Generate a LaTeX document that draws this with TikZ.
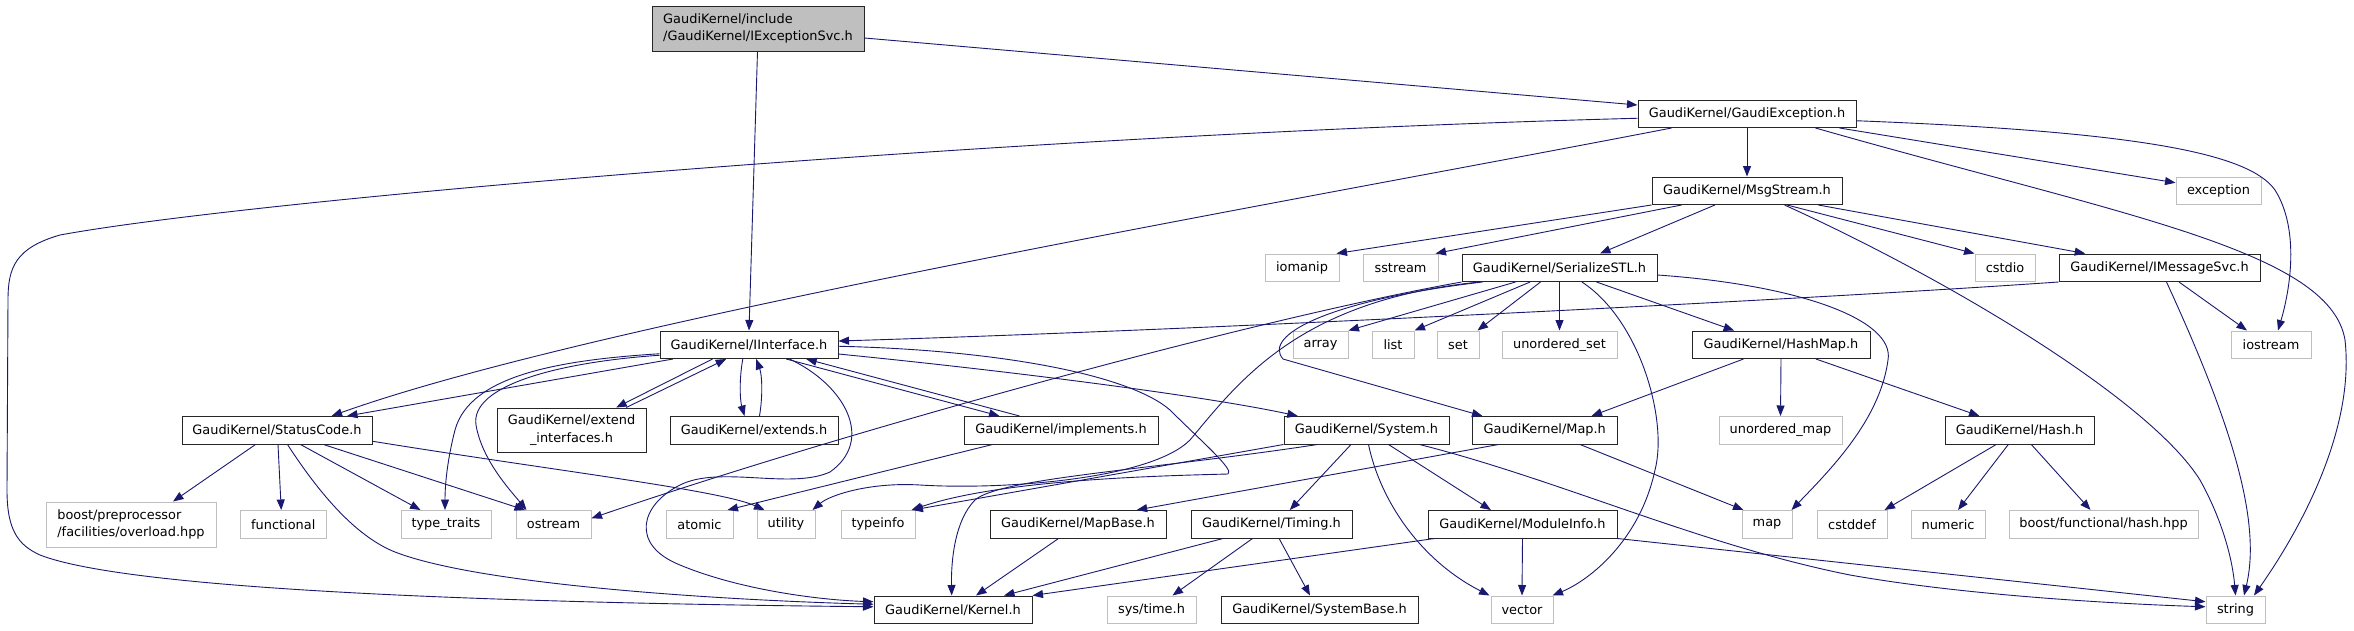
\documentclass[tikz,border=0pt]{standalone}
\usepackage{fontspec}
\setmainfont{DejaVu Sans}
\usetikzlibrary{arrows.meta}
\definecolor{edgec}{HTML}{191970}
\definecolor{extc}{HTML}{BFBFBF}
\definecolor{rootc}{HTML}{BFBFBF}
\begin{document}
\begin{tikzpicture}[x=1pt,y=-1pt,
  inb/.style={draw=black!85, line width=1pt, fill=white, inner sep=0pt, minimum height=27.5pt, font=\fontsize{12.9}{17.5}\selectfont},
  exb/.style={draw=extc, line width=1pt, fill=white, inner sep=0pt, minimum height=27.5pt, font=\fontsize{12.9}{17.5}\selectfont},
  edge/.style={draw=edgec, line width=0.9pt, -{Triangle[length=10.5pt,width=8pt]}, color=edgec}]
\useasboundingbox (0,0) rectangle (2354,630);
\fill[white] (0,0) rectangle (2354,630);
% nodes
\node[inb, minimum width=212pt, minimum height=45pt, fill=rootc, align=left] (root) at (758,28.5) {GaudiKernel/include\\/GaudiKernel/IExceptionSvc.h};
\node[inb, minimum width=218pt] (ge) at (1747,113.75) {GaudiKernel/GaudiException.h};
\node[inb, minimum width=190pt] (ms) at (1747,190.75) {GaudiKernel/MsgStream.h};
\node[exb, minimum width=85pt] (exc) at (2218.5,190.75) {exception};
\node[exb, minimum width=74pt] (iom) at (1302,267.75) {iomanip};
\node[exb, minimum width=75pt] (sst) at (1400.5,267.75) {sstream};
\node[inb, minimum width=195pt] (ser) at (1559.5,267.75) {GaudiKernel/SerializeSTL.h};
\node[exb, minimum width=60pt] (cst) at (2005,267.75) {cstdio};
\node[inb, minimum width=201pt] (ims) at (2159.5,267.75) {GaudiKernel/IMessageSvc.h};
\node[inb, minimum width=178pt] (ii) at (749,344.75) {GaudiKernel/IInterface.h};
\node[exb, minimum width=55pt] (arr) at (1320.5,344.75) {array};
\node[exb, minimum width=42pt] (lst) at (1393,344.75) {list};
\node[exb, minimum width=42pt] (sset) at (1458,344.75) {set};
\node[exb, minimum width=115pt] (us) at (1559.5,344.75) {unordered\_set};
\node[inb, minimum width=178pt] (hm) at (1781,344.75) {GaudiKernel/HashMap.h};
\node[exb, minimum width=80pt] (ios) at (2271,344.75) {iostream};
\node[inb, minimum width=190pt] (sc) at (277,430.25) {GaudiKernel/StatusCode.h};
\node[inb, minimum width=149pt, minimum height=44.5pt, align=center] (ei) at (571.5,430.25) {GaudiKernel/extend\\\_interfaces.h};
\node[inb, minimum width=168pt] (ext) at (754,430.25) {GaudiKernel/extends.h};
\node[inb, minimum width=194pt] (imp) at (1061,430.25) {GaudiKernel/implements.h};
\node[inb, minimum width=165pt] (sys) at (1366.5,430.25) {GaudiKernel/System.h};
\node[inb, minimum width=144.5pt] (mp) at (1544.75,430.25) {GaudiKernel/Map.h};
\node[exb, minimum width=123pt] (um) at (1780.5,430.25) {unordered\_map};
\node[inb, minimum width=149pt] (hsh) at (2019.5,430.25) {GaudiKernel/Hash.h};
\node[exb, minimum width=170pt, minimum height=45pt, align=left] (bpp) at (131,524.5) {boost/preprocessor\\/facilities/overload.hpp};
\node[exb, minimum width=86.5pt] (fun) at (283.25,524.25) {functional};
\node[exb, minimum width=90pt] (tt) at (446,524.25) {type\_traits};
\node[exb, minimum width=75pt] (ost) at (553.5,524.25) {ostream};
\node[exb, minimum width=67pt] (atm) at (699.5,524.25) {atomic};
\node[exb, minimum width=58pt] (uti) at (786,524.25) {utility};
\node[exb, minimum width=74pt] (tpi) at (878,524.25) {typeinfo};
\node[inb, minimum width=176pt] (mb) at (1078,524.25) {GaudiKernel/MapBase.h};
\node[inb, minimum width=161pt] (tim) at (1271.5,524.25) {GaudiKernel/Timing.h};
\node[inb, minimum width=189pt] (mi) at (1522.5,524.25) {GaudiKernel/ModuleInfo.h};
\node[exb, minimum width=50pt] (map) at (1767,524.25) {map};
\node[exb, minimum width=70pt] (cdd) at (1852,524.25) {cstddef};
\node[exb, minimum width=74pt] (num) at (1948,524.25) {numeric};
\node[exb, minimum width=189pt] (bfh) at (2103.5,524.25) {boost/functional/hash.hpp};
\node[inb, minimum width=158pt] (ker) at (953,609.75) {GaudiKernel/Kernel.h};
\node[exb, minimum width=89pt] (sti) at (1151.5,609.75) {sys/time.h};
\node[inb, minimum width=197pt] (sb) at (1319.5,609.75) {GaudiKernel/SystemBase.h};
\node[exb, minimum width=62pt] (vec) at (1522,609.75) {vector};
\node[exb, minimum width=59pt] (str) at (2235.5,609.75) {string};
% root
\draw[edge] ([yshift=-9.5pt]root.east) -- ([yshift=8.75pt]ge.west);
\draw[edge] ([xshift=-0.5pt]root.south) -- (ii.north);
% GaudiException
\draw[edge] (ge.south) -- (ms.north);
\draw[edge] ([xshift=202pt]ge.south west) -- ([yshift=8pt]exc.west);
\draw[edge] ([yshift=-7pt]ge.east) .. controls (2150,132) and (2250,155) .. (2275,190) .. controls (2300,230) and (2290,290) .. ([xshift=7pt]ios.north);
\draw[edge] ([xshift=178pt]ge.south west) .. controls (2120,215) and (2330,250) .. (2345,340) .. controls (2355,430) and (2300,530) .. ([xshift=18.5pt]str.north);
\draw[edge] ([yshift=-4.5pt]ge.west) .. controls (1000,135) and (250,200) .. (60,235) .. controls (15,248) and (8,268) .. (8,300) -- (7,490) .. controls (7,530) and (18,545) .. (40,555) .. controls (130,590) and (500,603) .. ([yshift=3pt]ker.west);
\draw[edge] ([xshift=34pt]ge.south west) .. controls (1300,200) and (600,320) .. ([xshift=54.6pt]sc.north);
% MsgStream
\draw[edge] ([xshift=63.4pt]ms.south west) -- ([xshift=40.5pt]ser.north);
\draw[edge] (ms.south west) -- ([xshift=-3pt]iom.north east);
\draw[edge] ([xshift=30pt]ms.south west) -- ([xshift=-3pt]sst.north east);
\draw[edge] ([xshift=135.6pt]ms.south west) -- (cst.north west);
\draw[edge] ([xshift=166.8pt]ms.south west) -- ([xshift=26.7pt]ims.north west);
\draw[edge] ([xshift=133pt]ms.south west) .. controls (1950,280) and (2150,400) .. (2200,480) .. controls (2225,525) and (2233,565) .. (str.north);
% IMessageSvc
\draw[edge] (ims.south west) .. controls (1800,300) and (1200,330) .. ([yshift=3.75pt]ii.east);
\draw[edge] ([xshift=120.5pt]ims.south west) -- ([xshift=-24pt]ios.north);
\draw[edge] ([xshift=108pt]ims.south west) .. controls (2230,420) and (2262,520) .. ([xshift=8.5pt]str.north);
% SerializeSTL
\draw[edge] ([xshift=54pt]ser.south west) -- (arr.north east);
\draw[edge] ([xshift=68.6pt]ser.south west) -- (lst.north east);
\draw[edge] ([xshift=79pt]ser.south west) -- ([xshift=-2pt]sset.north east);
\draw[edge] (ser.south) -- (us.north);
\draw[edge] ([xshift=135pt]ser.south west) -- ([xshift=42.6pt]hm.north west);
\draw[edge] ([yshift=-7.25pt]ser.east) .. controls (1800,285) and (1895,320) .. (1888,360) .. controls (1880,420) and (1830,470) .. ([xshift=-1pt]map.north east);
\draw[edge] ([xshift=120.4pt]ser.south west) .. controls (1640,320) and (1668,420) .. (1655,470) .. controls (1640,540) and (1590,580) .. ([xshift=-1pt]vec.north east);
\draw[edge] ([xshift=21pt]ser.south west) .. controls (1330,300) and (1262,335) .. (1283,359) -- ([xshift=10.5pt]mp.north west);
\draw[edge] (ser.south west) .. controls (1250,320) and (850,430) .. ([yshift=6pt]ost.east);
\draw[edge] ([xshift=18pt]ser.south west) .. controls (1300,300) and (1240,380) .. (1190,440) .. controls (1150,480) and (1000,490) .. (920,485) .. controls (870,482) and (830,495) .. ([xshift=-3pt]uti.north east);
% IInterface
\draw[edge] ([xshift=13.5pt]ii.south west) -- ([xshift=70pt]sc.north);
\draw[edge] ([yshift=-9pt]ii.west) .. controls (560,360) and (470,375) .. (455,430) .. controls (446,465) and (445,490) .. ([xshift=-1pt]tt.north);
\draw[edge] ([yshift=-10.5pt]ii.west) .. controls (560,362) and (470,385) .. (476,425) .. controls (482,460) and (510,490) .. ([xshift=11pt]ost.north west);
\draw[edge] ([xshift=130pt]ii.south west) .. controls (845,385) and (875,440) .. (830,472) .. controls (790,490) and (720,465) .. (680,485) .. controls (640,505) and (630,545) .. (680,565) .. controls (740,590) and (820,600) .. ([yshift=8pt]ker.west);
\draw[edge] ([xshift=53pt]ii.south west) -- ([xshift=119.7pt]ei.north west);
\draw[edge] ([xshift=129.7pt]ei.north west) -- ([xshift=66.7pt]ii.south west);
\draw[edge] ([xshift=83.3pt]ii.south west) .. controls (739,380) and (740,400) .. ([xshift=75pt]ext.north west);
\draw[edge] ([xshift=90pt]ext.north west) .. controls (763,395) and (762,375) .. ([xshift=96.7pt]ii.south west);
\draw[edge] ([xshift=126.7pt]ii.south west) -- ([xshift=36pt]imp.north west);
\draw[edge] ([xshift=56pt]imp.north west) -- ([xshift=146.7pt]ii.south west);
\draw[edge] ([yshift=-9.25pt]ii.east) .. controls (1000,370) and (1200,395) .. ([xshift=14.3pt]sys.north west);
\draw[edge] ([yshift=-1.5pt]ii.east) .. controls (1000,350) and (1130,375) .. (1170,410) .. controls (1200,440) and (1235,470) .. (1228,474) .. controls (1150,476) and (1000,480) .. ([xshift=-4pt]tpi.north east);
% implements
\draw[edge] ([xshift=29pt]imp.south west) -- ([xshift=-6pt]atm.north east);
% StatusCode
\draw[edge] ([xshift=74pt]sc.south west) -- ([xshift=127.5pt]bpp.north west);
\draw[edge] ([xshift=1pt]sc.south) -- ([xshift=-2pt]fun.north);
\draw[edge] ([xshift=119pt]sc.south west) -- ([xshift=20pt]tt.north west);
\draw[edge] ([xshift=142pt]sc.south west) -- ([xshift=9.5pt]ost.north west);
\draw[edge] ([yshift=-11pt]sc.east) .. controls (550,470) and (720,490) .. ([xshift=8pt]uti.north west);
\draw[edge] ([xshift=106pt]sc.south west) .. controls (330,510) and (365,540) .. (395,552) .. controls (480,585) and (720,600) .. ([yshift=5.5pt]ker.west);
% System
\draw[edge] (sys.south west) -- ([xshift=-3pt]tpi.north east);
\draw[edge] ([xshift=34pt]sys.south west) .. controls (1150,470) and (1000,478) .. (975,500) .. controls (955,520) and (951,560) .. ([xshift=-1.3pt]ker.north);
\draw[edge] ([xshift=67.5pt]sys.south west) -- ([xshift=18.3pt]tim.north);
\draw[edge] ([xshift=105pt]sys.south west) -- ([xshift=63.4pt]mi.north west);
\draw[edge] ([xshift=85pt]sys.south west) .. controls (1380,500) and (1420,560) .. ([xshift=-1pt]vec.north west);
\draw[edge] ([xshift=136pt]sys.south west) .. controls (1560,480) and (1700,545) .. (1850,575) .. controls (1980,598) and (2150,605) .. ([yshift=3pt]str.west);
% ModuleInfo
\draw[edge] (mi.south east) -- ([yshift=8pt]str.west);
\draw[edge] (mi.south) -- (vec.north);
\draw[edge] ([xshift=7pt]mi.south west) -- (ker.north east);
% Timing
\draw[edge] ([xshift=32.5pt]tim.south west) -- ([xshift=51pt]ker.north);
\draw[edge] ([xshift=62pt]tim.south west) -- ([xshift=21pt]sti.north);
\draw[edge] ([xshift=88.6pt]tim.south west) -- ([xshift=-9.5pt]sb.north);
% MapBase, Map, HashMap, Hash
\draw[edge] ([xshift=69pt]mb.south west) -- ([xshift=23pt]ker.north);
\draw[edge] ([xshift=26.5pt]mp.south west) -- ([xshift=58.7pt]mb.north);
\draw[edge] ([xshift=108pt]mp.south west) -- ([xshift=2pt]map.north west);
\draw[edge] ([xshift=52pt]hm.south west) -- ([xshift=-26pt]mp.north east);
\draw[edge] (hm.south) -- (um.north);
\draw[edge] ([xshift=124.4pt]hm.south west) -- ([xshift=35pt]hsh.north west);
\draw[edge] ([xshift=51.7pt]hsh.south west) -- ([xshift=-3pt]cdd.north east);
\draw[edge] ([xshift=63.8pt]hsh.south west) -- ([xshift=10pt]num.north);
\draw[edge] ([xshift=86.8pt]hsh.south west) -- ([xshift=-13pt]bfh.north);
\end{tikzpicture}
\end{document}
